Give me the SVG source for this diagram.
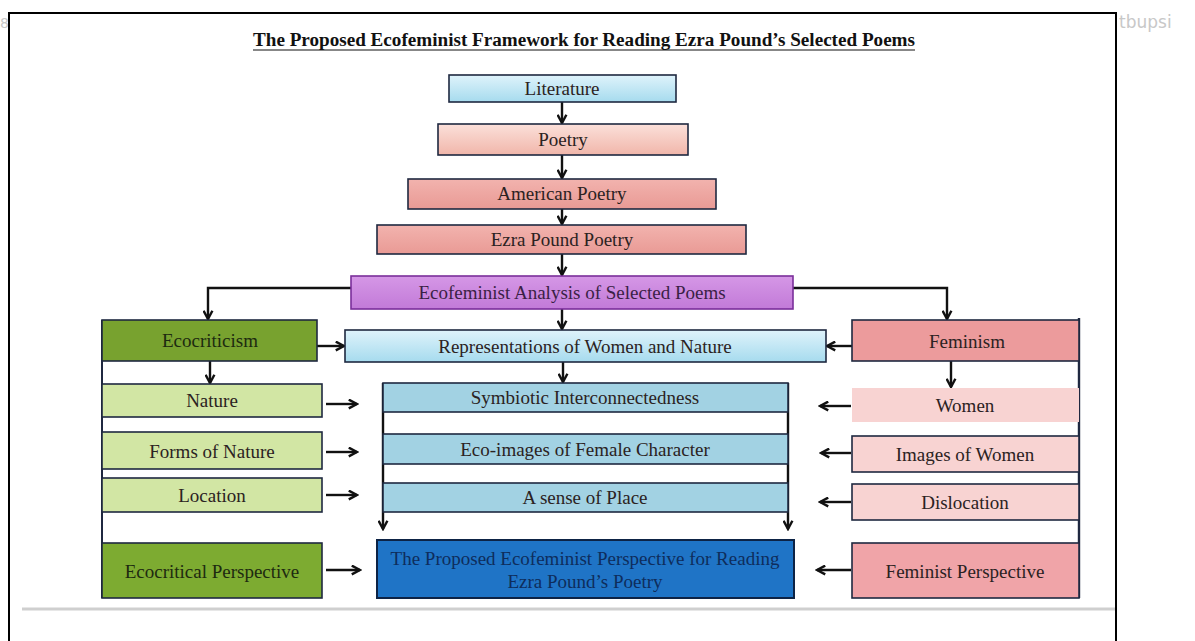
<svg xmlns="http://www.w3.org/2000/svg" width="1195" height="641" viewBox="0 0 1195 641">
<defs>
<linearGradient id="gBlueL" x1="0" y1="0" x2="0" y2="1"><stop offset="0" stop-color="#dff3fb"/><stop offset="1" stop-color="#a6dbee"/></linearGradient>
<linearGradient id="gPinkL" x1="0" y1="0" x2="0" y2="1"><stop offset="0" stop-color="#fbe0da"/><stop offset="1" stop-color="#f1b6aa"/></linearGradient>
<linearGradient id="gSalmon" x1="0" y1="0" x2="0" y2="1"><stop offset="0" stop-color="#f2b3ae"/><stop offset="1" stop-color="#e99a95"/></linearGradient>
<linearGradient id="gPurple" x1="0" y1="0" x2="0" y2="1"><stop offset="0" stop-color="#d597e6"/><stop offset="1" stop-color="#c27ad8"/></linearGradient>
<marker id="ah" viewBox="0 0 10 10" refX="8.5" refY="5" markerWidth="11" markerHeight="11" markerUnits="userSpaceOnUse" orient="auto">
<path d="M1,1 L8.5,5 L1,9" fill="none" stroke="#111" stroke-width="2.2" stroke-linejoin="miter"/>
</marker>
<style>
.t{font-family:"Liberation Serif","Times New Roman",serif;font-size:19px;fill:#2b2222;text-anchor:middle}
.b{stroke:#1f2840;stroke-width:1.6}
.c{fill:none;stroke:#111;stroke-width:2.4;marker-end:url(#ah)}
.l{fill:none;stroke:#111;stroke-width:2.4}
.wm{font-family:"DejaVu Sans",sans-serif;font-size:17px;fill:#c8c8c8}
</style>
</defs>
<rect x="0" y="0" width="1195" height="641" fill="#ffffff"/>
<text class="wm" x="0" y="28" style="font-size:14px">83</text>
<text class="wm" x="1119" y="28">tbupsi</text>
<rect x="9" y="13" width="1107" height="650" fill="#ffffff" stroke="#000" stroke-width="2"/>
<line x1="22" y1="609" x2="1115" y2="609" stroke="#cfcfcf" stroke-width="3"/>
<g id="title">
<text x="584" y="46" textLength="662" lengthAdjust="spacingAndGlyphs" style="font-family:'Liberation Serif','Times New Roman',serif;font-size:18px;font-weight:bold;fill:#111;text-anchor:middle">The Proposed Ecofeminist Framework for Reading Ezra Pound’s Selected Poems</text>
<line x1="253" y1="50" x2="915" y2="50" stroke="#111" stroke-width="1.2"/>
</g>
<g id="connectors">
<line class="c" x1="562" y1="102" x2="562" y2="123"/>
<line class="c" x1="562" y1="155" x2="562" y2="178"/>
<line class="c" x1="562" y1="209" x2="562" y2="224"/>
<line class="c" x1="562" y1="254" x2="562" y2="275"/>
<line class="c" x1="562" y1="309" x2="562" y2="329"/>
<polyline class="c" points="351,288 208,288 208,319"/>
<polyline class="c" points="793,288 947,288 947,319"/>
<line class="c" x1="317" y1="346" x2="344" y2="346"/>
<line class="c" x1="852" y1="346" x2="827" y2="346"/>
<line class="c" x1="210" y1="361" x2="210" y2="383"/>
<line class="c" x1="951" y1="361" x2="951" y2="387"/>
<line class="c" x1="563" y1="362" x2="563" y2="382"/>
<line class="c" x1="326" y1="404" x2="357" y2="404"/>
<line class="c" x1="326" y1="452" x2="357" y2="452"/>
<line class="c" x1="326" y1="495" x2="357" y2="495"/>
<line class="c" x1="326" y1="570" x2="360" y2="570"/>
<line class="c" x1="851" y1="406" x2="820" y2="406"/>
<line class="c" x1="851" y1="453" x2="821" y2="453"/>
<line class="c" x1="851" y1="502" x2="820" y2="502"/>
<line class="c" x1="851" y1="570" x2="817" y2="570"/>
<line class="c" x1="383" y1="383" x2="383" y2="529"/>
<line class="c" x1="788" y1="383" x2="788" y2="529"/>
<line class="l" x1="102" y1="320" x2="102" y2="598" style="stroke:#1f2840;stroke-width:2"/>
<line class="l" x1="1079" y1="318" x2="1079" y2="598" style="stroke:#1f2840;stroke-width:2.4"/>
</g>
<g id="literature"><rect class="b" x="449" y="75" width="227" height="27" fill="url(#gBlueL)"/><text class="t" x="562" y="95">Literature</text></g>
<g id="poetry"><rect class="b" x="438" y="124" width="250" height="31" fill="url(#gPinkL)"/><text class="t" x="563" y="146">Poetry</text></g>
<g id="american-poetry"><rect class="b" x="408" y="179" width="308" height="30" fill="url(#gSalmon)"/><text class="t" x="562" y="200">American Poetry</text></g>
<g id="ezra-pound-poetry"><rect class="b" x="377" y="225" width="369" height="29" fill="url(#gSalmon)"/><text class="t" x="562" y="246">Ezra Pound Poetry</text></g>
<g id="ecofeminist-analysis"><rect x="351" y="276" width="442" height="33" fill="url(#gPurple)" stroke="#7a2f9a" stroke-width="1.6"/><text class="t" x="572" y="299" style="fill:#3a1f45">Ecofeminist Analysis of Selected Poems</text></g>
<g id="ecocriticism"><rect class="b" x="102" y="320" width="215" height="41" fill="#78a22f"/><text class="t" x="210" y="347" style="fill:#1d2a10">Ecocriticism</text></g>
<g id="representations"><rect class="b" x="345" y="330" width="481" height="32" fill="url(#gBlueL)"/><text class="t" x="585" y="353">Representations of Women and Nature</text></g>
<g id="feminism"><rect class="b" x="852" y="320" width="227" height="41" fill="#ec9b9c"/><text class="t" x="967" y="348">Feminism</text></g>
<g id="nature"><rect class="b" x="102" y="384" width="220" height="33" fill="#d2e6a4"/><text class="t" x="212" y="407">Nature</text></g>
<g id="forms-of-nature"><rect class="b" x="102" y="432" width="220" height="37" fill="#d2e6a4"/><text class="t" x="212" y="458">Forms of Nature</text></g>
<g id="location"><rect class="b" x="102" y="478" width="220" height="34" fill="#d2e6a4"/><text class="t" x="212" y="502">Location</text></g>
<g id="ecocritical-perspective"><rect class="b" x="102" y="543" width="220" height="55" fill="#7dab31"/><text class="t" x="212" y="578" style="fill:#1d2a10">Ecocritical Perspective</text></g>
<g id="symbiotic"><rect class="b" x="383" y="383" width="405" height="29" fill="#a2d2e3"/><text class="t" x="585" y="404">Symbiotic Interconnectedness</text></g>
<g id="eco-images"><rect class="b" x="383" y="434" width="405" height="30" fill="#a2d2e3"/><text class="t" x="585" y="456">Eco-images of Female Character</text></g>
<g id="sense-of-place"><rect class="b" x="383" y="483" width="405" height="29" fill="#a2d2e3"/><text class="t" x="585" y="504">A sense of Place</text></g>
<g id="proposed-perspective"><rect x="377" y="540" width="417" height="58" fill="#1f74c6" stroke="#0d2345" stroke-width="2"/><text class="t" x="585" y="565" style="fill:#0e2d5c">The Proposed Ecofeminist Perspective for Reading</text><text class="t" x="585" y="588" style="fill:#0e2d5c">Ezra Pound’s Poetry</text></g>
<g id="women"><rect x="852" y="388" width="227" height="34" fill="#f8d3d2"/><text class="t" x="965" y="412">Women</text></g>
<g id="images-of-women"><rect class="b" x="852" y="436" width="227" height="36" fill="#f8d3d2"/><text class="t" x="965" y="461">Images of Women</text></g>
<g id="dislocation"><rect class="b" x="852" y="484" width="227" height="36" fill="#f8d3d2"/><text class="t" x="965" y="509">Dislocation</text></g>
<g id="feminist-perspective"><rect class="b" x="852" y="543" width="227" height="55" fill="#f0a4a8"/><text class="t" x="965" y="578">Feminist Perspective</text></g>
</svg>
